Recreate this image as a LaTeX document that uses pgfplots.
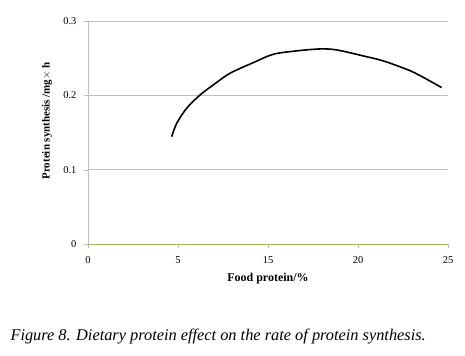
\documentclass[border=0pt]{standalone}
\usepackage{pgfplots}
\pgfplotsset{compat=1.18}
\usepackage{fontspec}
\setmainfont{Liberation Serif}
\definecolor{exgreen}{RGB}{155,187,89}
\definecolor{gridgray}{RGB}{190,190,190}
\begin{document}
\begin{tikzpicture}
\useasboundingbox (0bp,0bp) rectangle (465bp,-356bp);
\begin{axis}[
  at={(88bp,-244bp)}, anchor=south west,
  scale only axis, width=360bp, height=223bp,
  xmin=0, xmax=25, ymin=0, ymax=0.3,
  xtick={0,6.25,12.5,18.75,25},
  xticklabels={0,5,15,20,25},
  ytick={0,0.1,0.2,0.3},
  yticklabels={0,0.1,0.2,0.3},
  axis lines*=left,
  x axis line style={exgreen, line width=0.8pt},
  y axis line style={gridgray, line width=0.8pt},
  xtick style={gridgray},
  ytick style={gridgray},
  tick align=outside,
  major tick length=4bp,
  ymajorgrids,
  grid style={gridgray, line width=0.8pt},
  tick label style={font=\fontsize{10.5}{12}\selectfont},
  xticklabel style={yshift=-5bp},
  yticklabel style={xshift=-4bp},
  /pgf/number format/assume math mode=true,
  xlabel={Food protein/\%},
  ylabel={Protein synthesis /mg$\times$ h},
  xlabel style={font=\fontsize{12}{14}\selectfont\bfseries, at={(axis description cs:0.5,-0.166)}, anchor=base},
  ylabel style={font=\fontsize{11}{13}\selectfont\bfseries, at={(axis description cs:-0.114,0.552)}, anchor=center},
  clip=false,
]
\addplot[black, line width=1.6pt, smooth, tension=0.5] coordinates {
(5.81,0.1444) (6.16,0.1624) (6.85,0.1826) (7.78,0.2005) (8.70,0.2140)
(9.86,0.2297) (11.48,0.2440) (12.87,0.2553) (14.49,0.2598) (16.11,0.2624)
(17.27,0.2611) (19.12,0.2530) (20.51,0.2463) (22.36,0.2332) (23.52,0.2217)
(24.56,0.2104)
};
\end{axis}
\node[anchor=base west, font=\fontsize{16.4}{19}\selectfont\itshape] at (7bp,-340bp) {Figure 8. Dietary protein effect on the rate of protein synthesis.};
\end{tikzpicture}
\end{document}
